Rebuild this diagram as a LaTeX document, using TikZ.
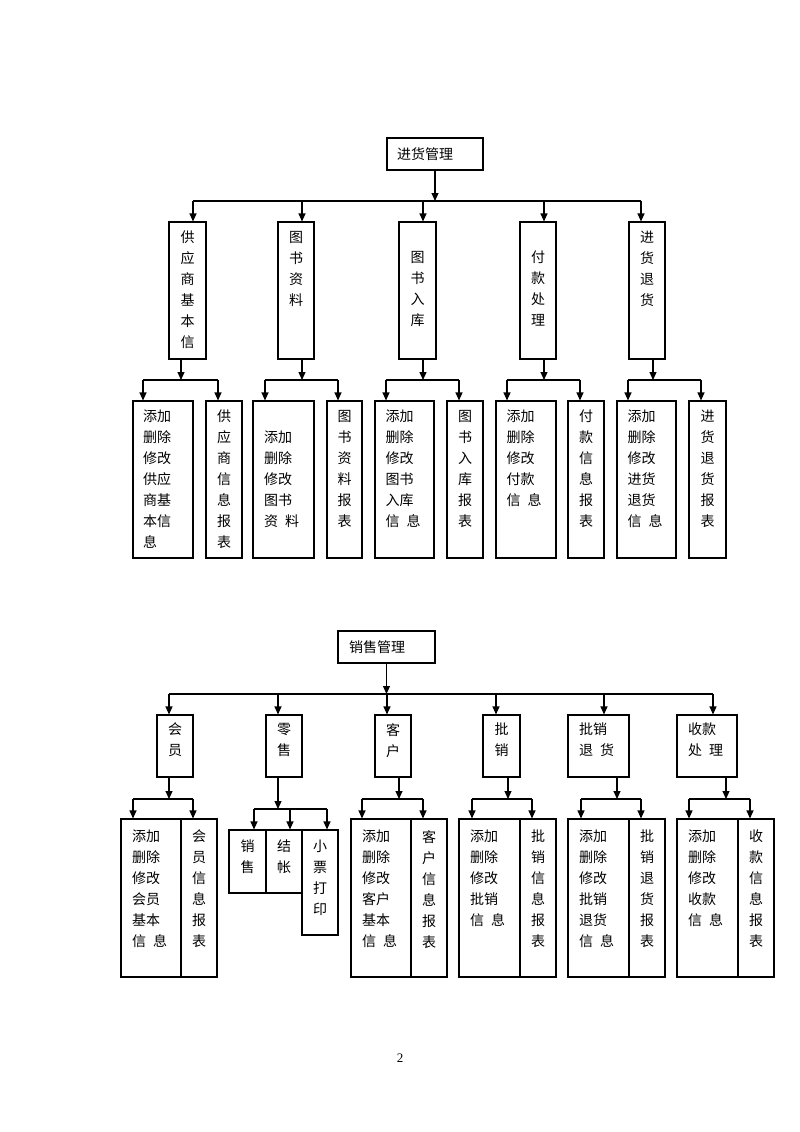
\documentclass[tikz,border=0pt]{standalone}
\usepackage{fontspec}
\setmainfont{Liberation Serif}
\newfontfamily\cjk{Noto Sans CJK SC}
\usetikzlibrary{arrows.meta,fit}
\newcommand\gp{\hspace{7pt}}
\begin{document}
\begin{tikzpicture}[x=1pt,y=-1pt,
  bx/.style={draw,line width=1.1pt,inner sep=0pt},
  arr/.style={-{Triangle[length=8pt,width=7pt]},line width=1.1pt},
  ln/.style={line width=1.1pt},
  vt/.style={font=\cjk\fontsize{14}{21}\selectfont,align=center,inner sep=0pt,anchor=north},
  lt/.style={font=\cjk\fontsize{14}{21}\selectfont,align=left,inner sep=0pt,anchor=north west},
  ht/.style={font=\cjk\fontsize{14}{21}\selectfont,inner sep=0pt,anchor=west}]
\useasboundingbox (0,0) rectangle (800,1132);
\fill[white] (0,0) rectangle (800,1132);

% ===== 进货管理 =====
\node[bx,fit={(387,138) (483,170)}] (r1) {};
\node[ht] (r1t) at (397,154) {进货管理};
\node[bx,fit={(169,222) (206,359)}] (a1) {};
\node[bx,fit={(278,222) (314,359)}] (a2) {};
\node[bx,fit={(399,222) (436,359)}] (a3) {};
\node[bx,fit={(520,222) (556,359)}] (a4) {};
\node[bx,fit={(629,222) (665,359)}] (a5) {};
\node[vt] (a1t) at (187.5,231) {供\\应\\商\\基\\本\\信};
\node[vt] (a2t) at (296,231) {图\\书\\资\\料};
\node[vt] (a3t) at (417.5,251) {图\\书\\入\\库};
\node[vt] (a4t) at (538,251) {付\\款\\处\\理};
\node[vt] (a5t) at (647,231) {进\\货\\退\\货};

\coordinate (tb) at (0,201);
\coordinate (tl) at (193,201);
\coordinate (tr) at (641,201);
\coordinate (k2) at (302,201);
\coordinate (k3) at (423,201);
\coordinate (k4) at (544,201);
\draw[arr] (r1.south) -- (r1.south |- tb);
\draw[ln] (tl) -- (tr);
\draw[arr] (tl) -- (tl |- a1.north);
\draw[arr] (k2) -- (k2 |- a2.north);
\draw[arr] (k3) -- (k3 |- a3.north);
\draw[arr] (k4) -- (k4 |- a4.north);
\draw[arr] (tr) -- (tr |- a5.north);

% children
\node[bx,fit={(133,401) (193,558)}] (g1a) {};
\node[bx,fit={(206,401) (242,558)}] (g1b) {};
\node[bx,fit={(253,401) (314,558)}] (g2a) {};
\node[bx,fit={(327,401) (362,558)}] (g2b) {};
\node[bx,fit={(375,401) (434,558)}] (g3a) {};
\node[bx,fit={(447,401) (483,558)}] (g3b) {};
\node[bx,fit={(496,401) (556,558)}] (g4a) {};
\node[bx,fit={(568,401) (604,558)}] (g4b) {};
\node[bx,fit={(617,401) (676,558)}] (g5a) {};
\node[bx,fit={(689,401) (726,558)}] (g5b) {};

\node[lt] (g1at) at (143,410) {添加\\删除\\修改\\供应\\商基\\本信\\息};
\node[lt] (g2at) at (264,431) {添加\\删除\\修改\\图书\\资\gp 料};
\node[lt] (g3at) at (385.5,410) {添加\\删除\\修改\\图书\\入库\\信\gp 息};
\node[lt] (g4at) at (506.5,410) {添加\\删除\\修改\\付款\\信\gp 息};
\node[lt] (g5at) at (627.5,410) {添加\\删除\\修改\\进货\\退货\\信\gp 息};
\node[vt] (g1bt) at (224,410) {供\\应\\商\\信\\息\\报\\表};
\node[vt] (g2bt) at (344.5,410) {图\\书\\资\\料\\报\\表};
\node[vt] (g3bt) at (465,410) {图\\书\\入\\库\\报\\表};
\node[vt] (g4bt) at (586,410) {付\\款\\信\\息\\报\\表};
\node[vt] (g5bt) at (707.5,410) {进\\货\\退\\货\\报\\表};

% sub-buses
\coordinate (sb) at (0,380);
\foreach \p/\s/\l/\r/\ca/\cb in {a1/181/143/218/g1a/g1b, a2/302/265/338/g2a/g2b, a3/423/386/459/g3a/g3b, a4/544/507/580/g4a/g4b, a5/653/628/701/g5a/g5b}{
  \coordinate (s-\p) at (\s,380);
  \coordinate (l-\p) at (\l,380);
  \coordinate (r-\p) at (\r,380);
  \draw[arr] (s-\p |- \p.south) -- (s-\p);
  \draw[ln] (l-\p) -- (r-\p);
  \draw[arr] (l-\p) -- (l-\p |- \ca.north);
  \draw[arr] (r-\p) -- (r-\p |- \cb.north);
}

% ===== 销售管理 =====
\node[bx,fit={(338,631) (435,663)}] (r2) {};
\node[ht] (r2t) at (349,647) {销售管理};
\node[bx,fit={(157,715) (193,777)}] (c1) {};
\node[bx,fit={(266,715) (302,777)}] (c2) {};
\node[bx,fit={(375,715) (411,777)}] (c3) {};
\node[bx,fit={(483,715) (520,777)}] (c4) {};
\node[bx,fit={(568,715) (629,777)}] (c5) {};
\node[bx,fit={(677,715) (737,777)}] (c6) {};
\node[vt] (c1t) at (175,723) {会\\员};
\node[vt] (c2t) at (284,723) {零\\售};
\node[vt] (c3t) at (393,723) {客\\户};
\node[vt] (c4t) at (501.5,723) {批\\销};
\node[lt] (c5t) at (579,723) {批销\\退\gp 货};
\node[lt] (c6t) at (688,723) {收款\\处\gp 理};

\coordinate (ub) at (0,694);
\coordinate (ul) at (169,694);
\coordinate (ur) at (713,694);
\coordinate (m2) at (278,694);
\coordinate (m3) at (387,694);
\coordinate (m4) at (496,694);
\coordinate (m5) at (604,694);
\draw[arr] (r2.south) -- (r2.south |- ub);
\draw[ln] (ul) -- (ur);
\draw[arr] (ul) -- (ul |- c1.north);
\draw[arr] (m2) -- (m2 |- c2.north);
\draw[arr] (m3) -- (m3 |- c3.north);
\draw[arr] (m4) -- (m4 |- c4.north);
\draw[arr] (m5) -- (m5 |- c5.north);
\draw[arr] (ur) -- (ur |- c6.north);

% children
\node[bx,fit={(121,819) (181,977)}] (d1a) {};
\node[bx,fit={(181,819) (217,977)}] (d1b) {};
\node[bx,fit={(351,819) (411,977)}] (d3a) {};
\node[bx,fit={(411,819) (447,977)}] (d3b) {};
\node[bx,fit={(459,819) (520,977)}] (d4a) {};
\node[bx,fit={(520,819) (556,977)}] (d4b) {};
\node[bx,fit={(568,819) (629,977)}] (d5a) {};
\node[bx,fit={(629,819) (665,977)}] (d5b) {};
\node[bx,fit={(677,819) (738,977)}] (d6a) {};
\node[bx,fit={(738,819) (774,977)}] (d6b) {};

\node[lt] (d1at) at (132,830) {添加\\删除\\修改\\会员\\基本\\信\gp 息};
\node[lt] (d3at) at (362,830) {添加\\删除\\修改\\客户\\基本\\信\gp 息};
\node[lt] (d4at) at (470,830) {添加\\删除\\修改\\批销\\信\gp 息};
\node[lt] (d5at) at (579,830) {添加\\删除\\修改\\批销\\退货\\信\gp 息};
\node[lt] (d6at) at (688,830) {添加\\删除\\修改\\收款\\信\gp 息};
\node[vt] (d1bt) at (199,830) {会\\员\\信\\息\\报\\表};
\node[vt] (d3bt) at (429,830) {客\\户\\信\\息\\报\\表};
\node[vt] (d4bt) at (538,830) {批\\销\\信\\息\\报\\表};
\node[vt] (d5bt) at (647,830) {批\\销\\退\\货\\报\\表};
\node[vt] (d6bt) at (756,830) {收\\款\\信\\息\\报\\表};

\foreach \p/\s/\l/\r/\ca/\cb in {c1/169/133/193/d1a/d1b, c3/399/362/423/d3a/d3b, c4/508/472/532/d4a/d4b, c5/617/581/641/d5a/d5b, c6/726/689/750/d6a/d6b}{
  \coordinate (s-\p) at (\s,799);
  \coordinate (l-\p) at (\l,799);
  \coordinate (r-\p) at (\r,799);
  \draw[arr] (s-\p |- \p.south) -- (s-\p);
  \draw[ln] (l-\p) -- (r-\p);
  \draw[arr] (l-\p) -- (l-\p |- \ca.north);
  \draw[arr] (r-\p) -- (r-\p |- \cb.north);
}

% retail
\node[bx,fit={(229,830) (266,893)}] (e1) {};
\node[bx,fit={(266,830) (302,893)}] (e2) {};
\node[bx,fit={(302,830) (338,935)}] (e3) {};
\node[vt] (e1t) at (247.5,840) {销\\售};
\node[vt] (e2t) at (284,840) {结\\帐};
\node[vt] (e3t) at (320,840) {小\\票\\打\\印};
\coordinate (s-c2) at (278,809);
\coordinate (l-c2) at (254,809);
\coordinate (m-c2) at (290,809);
\coordinate (r-c2) at (327,809);
\draw[arr] (s-c2 |- c2.south) -- (s-c2);
\draw[ln] (l-c2) -- (r-c2);
\draw[arr] (l-c2) -- (l-c2 |- e1.north);
\draw[arr] (m-c2) -- (m-c2 |- e2.north);
\draw[arr] (r-c2) -- (r-c2 |- e3.north);

\node[font=\fontsize{13}{15}\selectfont] (pg) at (400,1058) {2};
\end{tikzpicture}
\end{document}
